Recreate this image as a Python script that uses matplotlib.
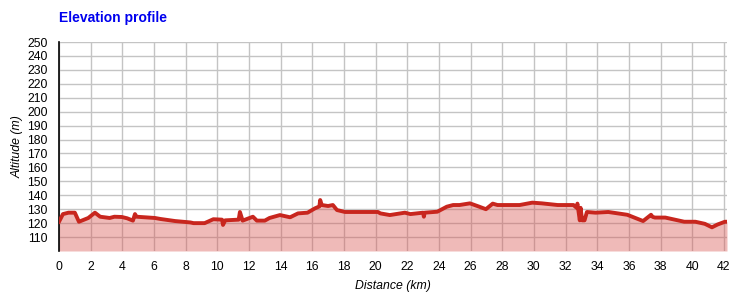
import matplotlib.pyplot as plt
import numpy as np

# Elevation profile data (km, m)
distance_km = [0.0, 0.25, 0.6, 1.0, 1.26, 1.85, 2.27, 2.6, 3.2, 3.5, 3.97, 4.3, 4.67, 4.8, 4.9,
               6.06, 6.4, 7.33, 8.3, 8.5, 9.2, 9.75, 10.3, 10.36, 10.5, 11.35, 11.43, 11.6,
               12.25, 12.5, 13.0, 13.3, 13.96, 14.6, 15.1, 15.7, 16.17, 16.45, 16.5, 16.6,
               17.0, 17.3, 17.56, 18.07, 20.15, 20.3, 20.9, 21.85, 22.2, 23.0, 23.05, 23.1,
               23.9, 24.5, 24.9, 25.3, 25.96, 26.5, 26.97, 27.4, 27.7, 29.1, 29.9, 30.5,
               31.5, 32.5, 32.7, 32.75, 32.9, 32.95, 33.05, 33.2, 33.35, 33.9, 34.7, 35.9,
               36.9, 37.4, 37.5, 37.65, 38.3, 39.5, 40.2, 40.8, 41.25, 41.6, 42.07, 42.2]
altitude_m = [121, 126.5, 127.5, 127.5, 121, 123.7, 127.5, 124.6, 123.7, 124.6, 124.4, 123.5, 121.8,
              126.5, 124.6, 123.7, 123, 121.5, 120.5, 120, 120, 122.8, 122.5, 118.7, 122, 122.5, 128,
              121.8, 124.6, 121.8, 121.8, 123.7, 125.8, 124.2, 127, 127.5, 130.6, 132, 136.6,
              133, 132.3, 133, 129.4, 128, 128, 127, 125.8, 127.5, 126.5, 127.5, 124.6, 127.5,
              128.2, 131.8, 133, 133, 134.2, 132, 130, 134, 133, 133, 134.7, 134.2,
              133, 133, 131, 134, 122, 131, 122, 122, 128, 127.5, 128, 126,
              121.5, 126, 124.5, 124, 124, 121, 121, 119.5, 117, 119, 121, 121]

x_ticks = np.arange(0, 43, 2)
y_ticks = np.arange(110, 251, 10)

plt.rcParams['font.family'] = ['Liberation Sans', 'DejaVu Sans']

fig = plt.figure(figsize=(7.44, 2.97), dpi=100)
ax = fig.add_axes([59/744, 46/297, 668/744, 209/297])

ax.fill_between(distance_km, altitude_m, 100, color='#d9534f', alpha=0.4, linewidth=0, zorder=2)
ax.plot(distance_km, altitude_m, color='#c8261e', linewidth=2.8, zorder=3)

ax.set_xlim(0, 42.2)
ax.set_ylim(100, 250)
ax.set_xticks(x_ticks)
ax.set_yticks(y_ticks)
ax.grid(True, color='#c4c4c4', linewidth=1, zorder=1)
ax.set_axisbelow(True)
for side in ['top', 'right', 'bottom']:
    ax.spines[side].set_visible(False)
ax.spines['left'].set_color('black')
ax.spines['left'].set_linewidth(1.2)
ax.tick_params(length=0, labelsize=8.8, pad=8)
ax.tick_params(axis='x', pad=7)

ax.set_xlabel('Distance (km)', fontsize=8.8, style='italic', labelpad=5)
ax.set_ylabel('Altitude (m)', fontsize=8.8, style='italic', labelpad=3)
fig.text(59/744, 1 - 18/297, 'Elevation profile', color='#0000ee', fontsize=10,
         fontweight='bold', va='center', ha='left')

fig.savefig('out.png', dpi=100)
